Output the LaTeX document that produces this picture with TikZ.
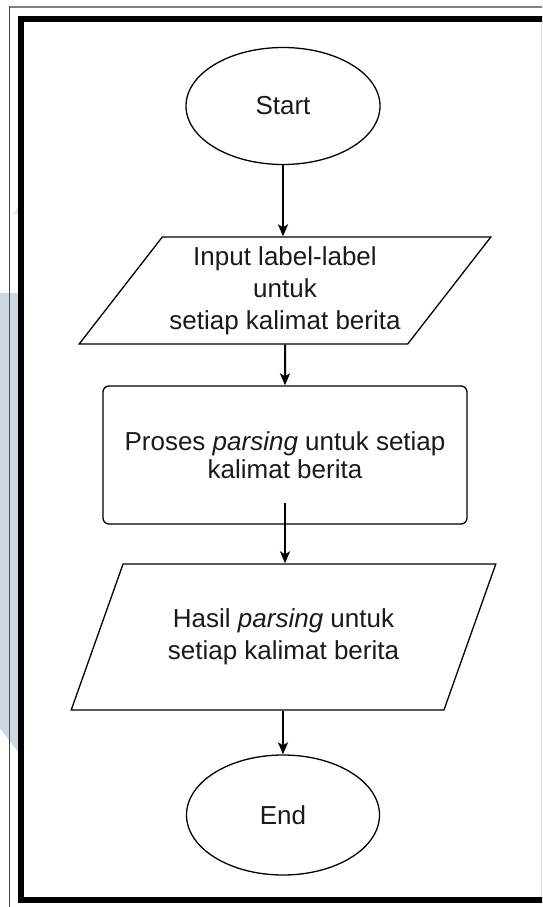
\documentclass[tikz,border=0pt]{standalone}
\usepackage{fontspec}
\setmainfont{Liberation Sans}
\usetikzlibrary{shapes.geometric,arrows.meta}

\definecolor{wmark}{RGB}{205,216,227}
\definecolor{inkgray}{RGB}{26,26,26}

\begin{document}
\begin{tikzpicture}[x=1pt,y=-1pt,
  every node/.style={font=\fontsize{26}{32}\selectfont, text=inkgray},
  term/.style={ellipse, draw, line width=1.3pt, minimum width=194pt, minimum height=117pt, inner sep=0pt},
  iobox/.style={trapezium, draw, line width=1.3pt, trapezium stretches=true, inner sep=0pt, align=center},
  procbox/.style={rectangle, rounded corners=6pt, draw, line width=1.3pt, minimum width=364pt,
    minimum height=138pt, inner sep=0pt, align=center, font=\fontsize{26}{27.5}\selectfont},
  flow/.style={line width=2pt, -{Stealth[length=12pt,width=10pt,inset=3pt]}},
  frameline/.style={line width=6.4pt, black}
]
\useasboundingbox (0,0) rectangle (542,907);
\fill[white] (0,0) rectangle (542,907);

% page frame and side mark
\begin{scope}
  \clip (0,0) rectangle (542,907);
  \fill[wmark] (0,293) -- (18,293) -- (18,752) -- (0,728) -- cycle;
  \fill[wmark!60] (13,214) -- (18,214) -- (18,207) -- cycle;
  \draw[line width=1.2pt, black!50] (9.3,7) -- (545,7);
  \draw[line width=1pt, black!70] (9.3,7) -- (9.3,910);
  \draw[line width=1pt, black!12] (541,22) -- (541,897);
  \draw[frameline] (550,18.8) -- (20.8,18.8) -- (20.8,900) -- (550,900);
\end{scope}

% flowchart
\node[term] (start) at (283,106) {Start};
\node[iobox, trapezium left angle=48.4, trapezium right angle=131.6,
      minimum width=414pt, minimum height=107pt] (in1) at (285,290.5)
      {Input label-label\\untuk\\setiap kalimat berita};
\node[procbox] (proc) at (285,455) {Proses \textit{parsing} untuk setiap\\kalimat berita};
\node[iobox, trapezium left angle=56.4, trapezium right angle=123.6,
      minimum width=425pt, minimum height=146pt] (in2) at (283.5,637)
      {Hasil \textit{parsing} untuk\\setiap kalimat berita};
\node[term, minimum width=193pt, minimum height=120pt] (stop) at (283,815) {End};

\coordinate (pout) at ([yshift=22pt]proc.south);

\draw[flow] (start) -- (start |- in1.north);
\draw[flow] (in1.south) -- (proc.north);
\draw[flow] (pout) -- (pout |- in2.north);
\draw[flow] (stop |- in2.south) -- (stop);
\end{tikzpicture}
\end{document}
